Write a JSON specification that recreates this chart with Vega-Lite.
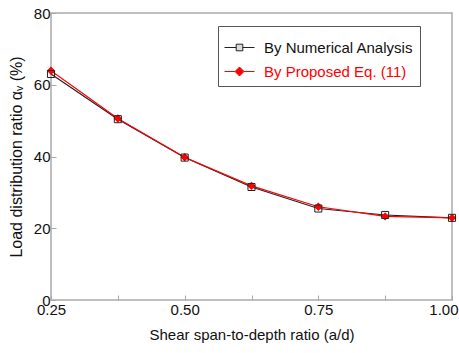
{
  "$schema": "https://vega.github.io/schema/vega-lite/v6.json",
  "width": 401,
  "height": 287,
  "autosize": {"type": "none"},
  "padding": {"left": 51, "top": 13, "right": 7, "bottom": 53},
  "background": "white",
  "config": {
    "font": "Liberation Sans",
    "view": {"stroke": "#aaaaaa", "strokeWidth": 1.5},
    "axis": {"grid": false, "domain": false, "labelFont": "Liberation Sans", "titleFont": "Liberation Sans", "labelColor": "#111", "titleColor": "#111", "labelFontSize": 15, "titleFontSize": 15, "titleFontWeight": "normal", "tickColor": "#aaaaaa"}
  },
  "data": {"values": [
    {"x": 0.25, "y": 63.0, "s": "By Numerical Analysis"},
    {"x": 0.375, "y": 50.4, "s": "By Numerical Analysis"},
    {"x": 0.5, "y": 39.7, "s": "By Numerical Analysis"},
    {"x": 0.625, "y": 31.5, "s": "By Numerical Analysis"},
    {"x": 0.75, "y": 25.5, "s": "By Numerical Analysis"},
    {"x": 0.875, "y": 23.7, "s": "By Numerical Analysis"},
    {"x": 1.0, "y": 22.9, "s": "By Numerical Analysis"},
    {"x": 0.25, "y": 63.9, "s": "By Proposed Eq. (11)"},
    {"x": 0.375, "y": 50.6, "s": "By Proposed Eq. (11)"},
    {"x": 0.5, "y": 39.8, "s": "By Proposed Eq. (11)"},
    {"x": 0.625, "y": 31.8, "s": "By Proposed Eq. (11)"},
    {"x": 0.75, "y": 26.0, "s": "By Proposed Eq. (11)"},
    {"x": 0.875, "y": 23.3, "s": "By Proposed Eq. (11)"},
    {"x": 1.0, "y": 22.9, "s": "By Proposed Eq. (11)"}
  ]},
  "encoding": {
    "x": {"field": "x", "type": "quantitative", "scale": {"domain": [0.25, 1.0], "nice": false, "zero": false},
      "axis": {"title": "Shear span-to-depth ratio (a/d)", "values": [0.25, 0.375, 0.5, 0.625, 0.75, 0.875, 1.0], "labelExpr": "(datum.value*1000) % 250 == 0 ? format(datum.value, '.2f') : ''", "tickSize": -5, "labelPadding": 7, "titlePadding": 10, "labelFlush": false, "labelOverlap": false,
        "labelAlign": {"expr": "datum.value >= 0.99 ? 'right' : 'center'"},
        "labelOffset": {"expr": "datum.value >= 0.99 ? 6 : 0"}}},
    "y": {"field": "y", "type": "quantitative", "scale": {"domain": [0, 80], "nice": false},
      "axis": {"title": "Load distribution ratio αᵥ (%)", "titleFontSize": 16, "values": [0, 20, 40, 60, 80], "tickSize": -5, "labelPadding": 6, "titlePadding": 9, "labelOverlap": false}}
  },
  "layer": [
    {"mark": {"type": "line", "strokeWidth": 1.2},
     "encoding": {
       "order": {"field": "x"},
       "stroke": {"field": "s", "type": "nominal", "scale": {"domain": ["By Numerical Analysis", "By Proposed Eq. (11)"], "range": ["#222222", "#ff0000"]},
         "legend": {"title": null, "orient": "none", "legendX": 167, "legendY": 13, "strokeColor": "#555555", "padding": 6, "labelFontSize": 15, "labelFont": "Liberation Sans", "symbolSize": 900, "symbolStrokeWidth": 1, "labelOffset": 9, "rowPadding": -5, "symbolOpacity": 1,
           "encode": {"labels": {"update": {"fill": {"signal": "datum.value == 'By Proposed Eq. (11)' ? '#ff0000' : '#111111'"}}}}}}
     }},
    {"transform": [{"filter": "datum.s == 'By Proposed Eq. (11)'"}],
     "mark": {"type": "point", "shape": "diamond", "filled": true, "color": "#ff0000", "size": 70, "opacity": 1}},
    {"transform": [{"filter": "datum.s == 'By Numerical Analysis'"}],
     "mark": {"type": "point", "shape": "square", "filled": false, "color": "#222222", "size": 50, "strokeWidth": 1, "opacity": 1}},
    {"mark": {"type": "point", "opacity": 0, "strokeWidth": 1, "filled": true},
     "encoding": {
       "stroke": {"field": "s", "type": "nominal"},
       "shape": {"field": "s", "type": "nominal", "scale": {"domain": ["By Numerical Analysis", "By Proposed Eq. (11)"], "range": ["M-1,0L-0.22,0M0.22,0L1,0M-0.22,-0.22L0.22,-0.22L0.22,0.22L-0.22,0.22Z", "M-1,0L-0.3,0M0.3,0L1,0M0,-0.3L0.3,0L0,0.3L-0.3,0Z"]}},
       "fill": {"field": "s", "type": "nominal", "scale": {"domain": ["By Numerical Analysis", "By Proposed Eq. (11)"], "range": ["#dddddd", "#ff0000"]}}
     }}
  ]
}
